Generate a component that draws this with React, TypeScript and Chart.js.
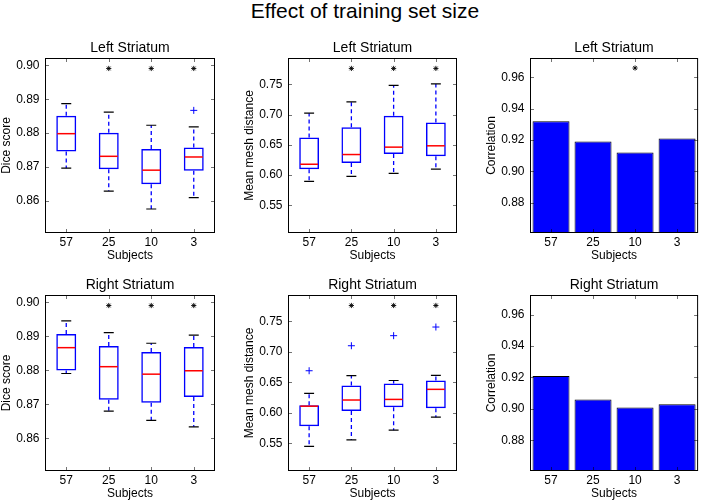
import React, { useEffect, useRef } from 'react';
import { Chart, registerables } from 'chart.js';

Chart.register(...registerables);
Chart.defaults.font.family = "'Liberation Sans', Arial, Helvetica, sans-serif";
Chart.defaults.color = '#000';

// ---------------- DATA ----------------
const subjects = ['57', '25', '10', '3'];

const diceTicks = [0.86, 0.87, 0.88, 0.89, 0.9];
const meshTicks = [0.55, 0.6, 0.65, 0.7, 0.75];
const corrTicks = [0.88, 0.9, 0.92, 0.94, 0.96];

const diceRange = [0.8504, 0.9022];
const meshRange = [0.5046, 0.7932];
const corrRange = [0.8606, 0.9724];

// Left striatum - Dice score
const diceLeftLow = [0.8696, 0.8628, 0.8575, 0.8609];
const diceLeftQ1 = [0.8745, 0.8693, 0.8648, 0.8688];
const diceLeftMed = [0.8798, 0.8731, 0.869, 0.8729];
const diceLeftQ3 = [0.8851, 0.8801, 0.8753, 0.8757];
const diceLeftHigh = [0.8887, 0.8862, 0.8823, 0.8818];
const diceLeftOut = [null, null, null, 0.8867];
const diceLeftStar = [null, 0.8991, 0.8991, 0.8991];

// Left striatum - Mean mesh distance
const meshLeftLow = [0.5896, 0.598, 0.603, 0.61];
const meshLeftQ1 = [0.6099, 0.62, 0.635, 0.631];
const meshLeftMed = [0.618, 0.634, 0.6462, 0.6484];
const meshLeftQ3 = [0.662, 0.679, 0.698, 0.687];
const meshLeftHigh = [0.7022, 0.721, 0.748, 0.7505];
const meshLeftOut = [null, null, null, null];
const meshLeftStar = [null, 0.776, 0.776, 0.776];

// Left striatum - Correlation
const corrLeft = [0.932, 0.919, 0.912, 0.921];
const corrLeftStar = [null, null, 0.966, null];

// Right striatum - Dice score
const diceRightLow = [0.8791, 0.868, 0.8653, 0.8634];
const diceRightQ1 = [0.88, 0.8714, 0.8705, 0.8722];
const diceRightMed = [0.8867, 0.8811, 0.8789, 0.8799];
const diceRightQ3 = [0.8907, 0.8872, 0.8854, 0.8869];
const diceRightHigh = [0.8946, 0.8911, 0.888, 0.8904];
const diceRightOut = [null, null, null, null];
const diceRightStar = [null, 0.8991, 0.8991, 0.8991];

// Right striatum - Mean mesh distance
const meshRightLow = [0.5451, 0.5556, 0.5715, 0.5929];
const meshRightQ1 = [0.5781, 0.603, 0.609, 0.6077];
const meshRightMed = [0.6109, 0.621, 0.622, 0.6385];
const meshRightQ3 = [0.6126, 0.645, 0.648, 0.653];
const meshRightHigh = [0.6319, 0.661, 0.653, 0.6615];
const meshRightOut = [0.669, 0.71, 0.7265, 0.7407];
const meshRightStar = [null, 0.776, 0.776, 0.776];

// Right striatum - Correlation
const corrRight = [0.921, 0.906, 0.901, 0.903];
const corrRightStar = [null, null, null, null];

// ---------------- PLUGINS ----------------
const BLUE = '#0000ff';

const boxDecor = {
  id: 'boxDecor',
  afterDatasetsDraw(chart: any, _args: any, opts: any) {
    if (!opts || !opts.med) return;
    const { ctx } = chart;
    const y = chart.scales.y;
    const meta = chart.getDatasetMeta(0);
    const data = chart.data.datasets[0].data;
    ctx.save();
    opts.med.forEach((m: number, i: number) => {
      const bar = meta.data[i];
      if (!bar) return;
      const cx = bar.x;
      const hw = bar.width / 2;
      const yLow = y.getPixelForValue(opts.low[i]);
      const yHigh = y.getPixelForValue(opts.high[i]);
      const yQ1 = y.getPixelForValue(data[i][0]);
      const yQ3 = y.getPixelForValue(data[i][1]);
      const yMed = y.getPixelForValue(m);
      // whiskers
      ctx.strokeStyle = BLUE;
      ctx.lineWidth = 1.3;
      ctx.setLineDash([4, 3]);
      ctx.beginPath();
      ctx.moveTo(cx, yQ3);
      ctx.lineTo(cx, yHigh);
      ctx.moveTo(cx, yQ1);
      ctx.lineTo(cx, yLow);
      ctx.stroke();
      ctx.setLineDash([]);
      // caps
      ctx.strokeStyle = '#000';
      ctx.lineWidth = 1.2;
      ctx.beginPath();
      ctx.moveTo(cx - hw / 2, yHigh);
      ctx.lineTo(cx + hw / 2, yHigh);
      ctx.moveTo(cx - hw / 2, yLow);
      ctx.lineTo(cx + hw / 2, yLow);
      ctx.stroke();
      // median
      ctx.strokeStyle = '#ff0000';
      ctx.lineWidth = 1.5;
      ctx.beginPath();
      ctx.moveTo(cx - hw + 1, yMed);
      ctx.lineTo(cx + hw - 1, yMed);
      ctx.stroke();
    });
    ctx.restore();
  },
};

const frame = {
  id: 'frame',
  afterDraw(chart: any) {
    const { ctx, chartArea: a } = chart;
    const x = chart.scales.x;
    const y = chart.scales.y;
    ctx.save();
    ctx.strokeStyle = 'rgba(0,0,0,0.55)';
    ctx.lineWidth = 1;
    ctx.beginPath();
    y.ticks.forEach((t: any) => {
      const py = Math.round(y.getPixelForValue(t.value)) + 0.5;
      ctx.moveTo(a.left, py);
      ctx.lineTo(a.left + 4, py);
      ctx.moveTo(a.right, py);
      ctx.lineTo(a.right - 4, py);
    });
    x.ticks.forEach((_t: any, i: number) => {
      const px = Math.round(x.getPixelForTick(i)) + 0.5;
      ctx.moveTo(px, a.top);
      ctx.lineTo(px, a.top + 4);
      ctx.moveTo(px, a.bottom);
      ctx.lineTo(px, a.bottom - 4);
    });
    ctx.stroke();
    ctx.strokeStyle = '#000';
    ctx.lineWidth = 1;
    ctx.strokeRect(a.left + 0.5, a.top + 0.5, a.right - a.left - 1, a.bottom - a.top - 1);
    ctx.restore();
  },
};

// ---------------- CONFIG BUILDERS ----------------
function scalesFor(yLabel: string, ticks: number[], range: number[]) {
  return {
    x: {
      type: 'category',
      offset: true,
      afterFit: (s: any) => {
        s.height = 30;
      },
      grid: { display: false, drawTicks: false },
      border: { display: false },
      ticks: { padding: 2.5, font: { size: 12 }, color: '#000', maxRotation: 0 },
      title: { display: true, text: 'Subjects', font: { size: 12 }, color: '#000', padding: { top: 0, bottom: 0.5 } },
    },
    y: {
      type: 'linear',
      min: range[0],
      max: range[1],
      afterBuildTicks: (s: any) => {
        s.ticks = ticks.map((v) => ({ value: v }));
      },
      afterFit: (s: any) => {
        s.width = 46;
      },
      grid: { display: false, drawTicks: false },
      border: { display: false },
      ticks: { padding: 5.5, font: { size: 12 }, color: '#000', callback: (v: any) => Number(v).toFixed(2) },
      title: { display: true, text: yLabel, font: { size: 12 }, color: '#000', padding: { top: 0.8, bottom: 0 } },
    },
  };
}

function commonPlugins(title: string) {
  return {
    legend: { display: false },
    tooltip: { enabled: false },
    title: {
      display: true,
      text: title,
      fullSize: false,
      font: { size: 14, weight: 'normal' },
      color: '#000',
      padding: { top: 1.8, bottom: 1.4 },
    },
  };
}

function boxConfig(
  title: string,
  yLabel: string,
  ticks: number[],
  range: number[],
  low: number[],
  q1: number[],
  med: number[],
  q3: number[],
  high: number[],
  out: (number | null)[],
  star: (number | null)[]
) {
  return {
    type: 'bar',
    data: {
      labels: subjects,
      datasets: [
        {
          type: 'bar',
          data: q1.map((v, i) => [v, q3[i]]),
          backgroundColor: 'rgba(255,255,255,0)',
          borderColor: BLUE,
          borderWidth: 1.5,
          borderSkipped: false,
          barPercentage: 0.47,
          categoryPercentage: 1,
        },
        {
          type: 'line',
          data: out,
          showLine: false,
          pointStyle: 'cross',
          pointRadius: 3.5,
          borderColor: BLUE,
          backgroundColor: BLUE,
          borderWidth: 1,
        },
        {
          type: 'line',
          data: star,
          showLine: false,
          pointStyle: 'star',
          pointRadius: 2.6,
          borderColor: '#000',
          backgroundColor: '#000',
          borderWidth: 0.9,
        },
      ],
    },
    options: {
      responsive: false,
      animation: false,
      layout: { padding: { left: 0, right: 4, top: 0, bottom: 4 } },
      scales: scalesFor(yLabel, ticks, range),
      plugins: { ...commonPlugins(title), boxDecor: { low, med, high } },
    },
    plugins: [boxDecor, frame],
  };
}

function barConfig(title: string, values: number[], star: (number | null)[]) {
  return {
    type: 'bar',
    data: {
      labels: subjects,
      datasets: [
        {
          type: 'bar',
          data: values,
          backgroundColor: BLUE,
          borderColor: '#000',
          borderWidth: 1,
          barPercentage: 0.88,
          categoryPercentage: 1,
        },
        {
          type: 'line',
          data: star,
          showLine: false,
          pointStyle: 'star',
          pointRadius: 2.6,
          borderColor: '#000',
          backgroundColor: '#000',
          borderWidth: 0.9,
        },
      ],
    },
    options: {
      responsive: false,
      animation: false,
      layout: { padding: { left: 0, right: 4, top: 0, bottom: 4 } },
      scales: scalesFor('Correlation', corrTicks, corrRange),
      plugins: commonPlugins(title),
    },
    plugins: [frame],
  };
}

// ---------------- PANELS ----------------
type PanelSpec = { x: number; y: number; w: number; h: number; make: () => any };

const panels: PanelSpec[] = [
  {
    x: -1, y: 38, w: 221, h: 229,
    make: () => boxConfig('Left Striatum', 'Dice score', diceTicks, diceRange, diceLeftLow, diceLeftQ1, diceLeftMed, diceLeftQ3, diceLeftHigh, diceLeftOut, diceLeftStar),
  },
  {
    x: 242, y: 38, w: 220, h: 229,
    make: () => boxConfig('Left Striatum', 'Mean mesh distance', meshTicks, meshRange, meshLeftLow, meshLeftQ1, meshLeftMed, meshLeftQ3, meshLeftHigh, meshLeftOut, meshLeftStar),
  },
  {
    x: 484, y: 38, w: 219, h: 229,
    make: () => barConfig('Left Striatum', corrLeft, corrLeftStar),
  },
  {
    x: -1, y: 275, w: 221, h: 230,
    make: () => boxConfig('Right Striatum', 'Dice score', diceTicks, diceRange, diceRightLow, diceRightQ1, diceRightMed, diceRightQ3, diceRightHigh, diceRightOut, diceRightStar),
  },
  {
    x: 242, y: 275, w: 220, h: 230,
    make: () => boxConfig('Right Striatum', 'Mean mesh distance', meshTicks, meshRange, meshRightLow, meshRightQ1, meshRightMed, meshRightQ3, meshRightHigh, meshRightOut, meshRightStar),
  },
  {
    x: 484, y: 275, w: 219, h: 230,
    make: () => barConfig('Right Striatum', corrRight, corrRightStar),
  },
];

function Panel({ spec }: { spec: PanelSpec }) {
  const ref = useRef<HTMLCanvasElement>(null);
  useEffect(() => {
    if (!ref.current) return;
    const chart = new Chart(ref.current, spec.make());
    return () => chart.destroy();
  }, [spec]);
  return (
    <canvas
      ref={ref}
      width={spec.w}
      height={spec.h}
      style={{ position: 'absolute', left: spec.x, top: spec.y, width: spec.w, height: spec.h }}
    />
  );
}

export default function App() {
  return (
    <div
      style={{
        position: 'fixed',
        left: 0,
        top: 0,
        width: 704,
        height: 501,
        overflow: 'hidden',
        background: '#fff',
      }}
    >
      <div
        style={{
          position: 'absolute',
          left: 0,
          top: -1,
          width: 730,
          textAlign: 'center',
          fontFamily: "'Liberation Sans', Arial, Helvetica, sans-serif",
          fontSize: 21,
          lineHeight: '24px',
          color: '#000',
        }}
      >
        Effect of training set size
      </div>
      {panels.map((p, i) => (
        <Panel key={i} spec={p} />
      ))}
    </div>
  );
}
